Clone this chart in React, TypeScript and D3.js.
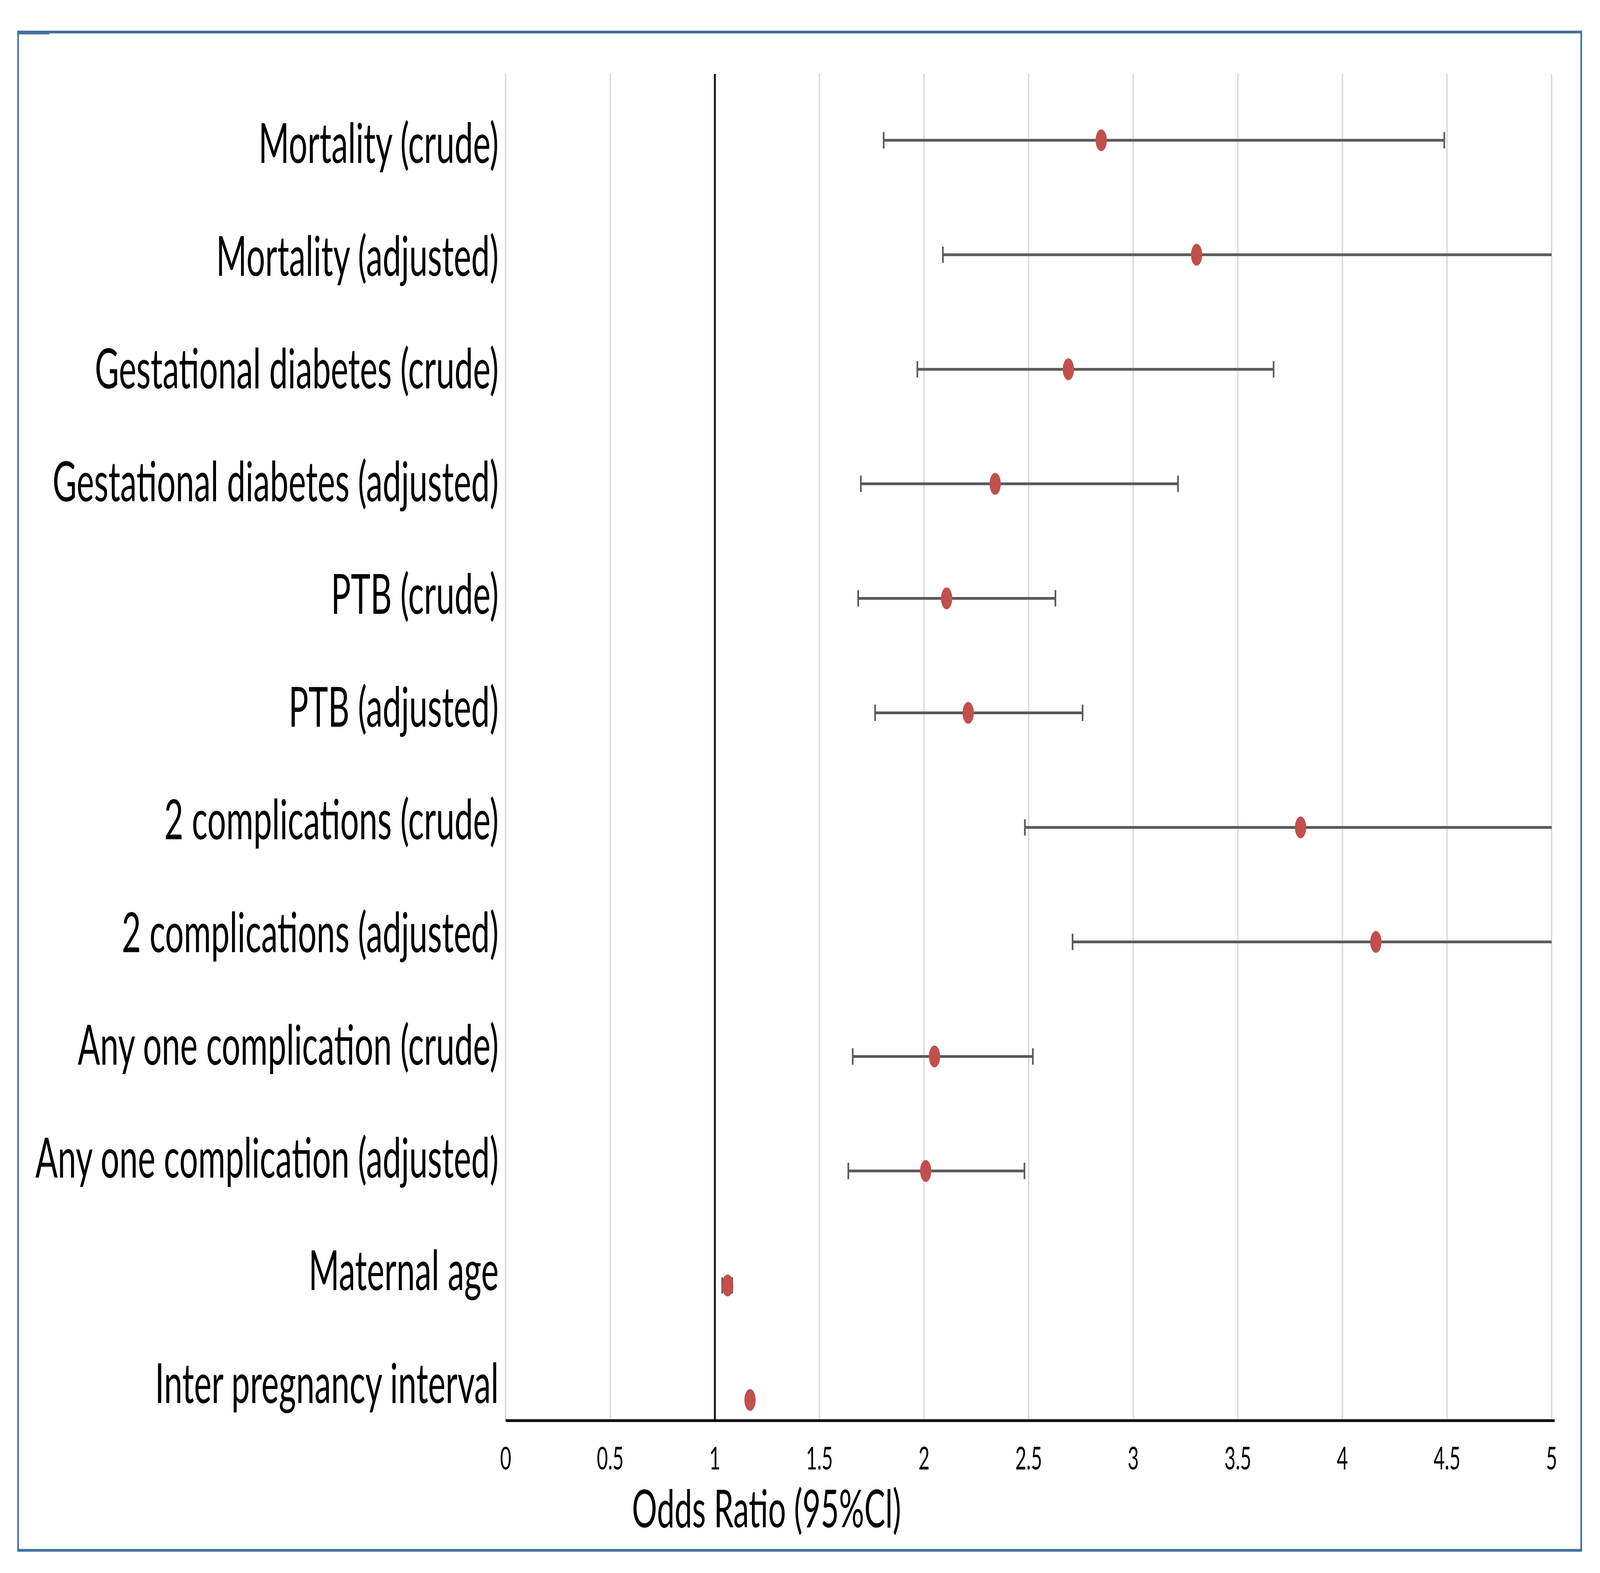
import React, { useEffect } from 'react';
import * as d3 from 'd3';

// Forest plot: odds ratios with 95% CI
const categories = [
  'Mortality (crude)',
  'Mortality (adjusted)',
  'Gestational diabetes (crude)',
  'Gestational diabetes (adjusted)',
  'PTB (crude)',
  'PTB (adjusted)',
  '2 complications (crude)',
  '2 complications (adjusted)',
  'Any one complication (crude)',
  'Any one complication (adjusted)',
  'Maternal age',
  'Inter pregnancy interval',
];
const oddsRatio = [2.847, 3.303, 2.69, 2.34, 2.108, 2.211, 3.8, 4.16, 2.05, 2.008, 1.061, 1.168];
const ciLower = [1.807, 2.09, 1.968, 1.698, 1.685, 1.766, 2.482, 2.71, 1.659, 1.638, 1.035, 1.155];
const ciUpper = [4.487, 5.21, 3.671, 3.214, 2.628, 2.758, 5.82, 6.39, 2.52, 2.48, 1.083, 1.181];
const xTicks = [0, 0.5, 1, 1.5, 2, 2.5, 3, 3.5, 4, 4.5, 5];

const W = 6809;
const H = 4026;
const FONT = 'Lato, "Open Sans", sans-serif';

export default function App() {
  useEffect(() => {
    document.body.style.margin = '0';
    document.body.style.overflow = 'hidden';
  }, []);

  const plotTop = 189;
  const plotBottom = 3636;

  const x = d3.scaleLinear().domain([0, 5]).range([2152, 6603]);
  // rows sit on a value axis (Excel scatter), not centred bands
  const y = d3.scaleLinear().domain([-0.58, 11.18]).range([plotTop, plotBottom]);
  // category labels come from a separate axis
  const labelY = d3.scalePoint<string>().domain(categories).range([417, 3591]);

  const clip = (v: number) => Math.max(0, Math.min(5, v));
  const capH = 21;

  // the window may be narrower than the chart, so stretch the viewBox over it
  return (
    <svg
      viewBox={`0 0 ${W} ${H}`}
      preserveAspectRatio="none"
      style={{ display: 'block', width: '100vw', height: '100vh', background: '#fff' }}
      fontFamily={FONT}
    >
      <rect x={0} y={0} width={W} height={H} fill="#fff" />

      {/* chart frame */}
      <rect x={77} y={82} width={6652} height={3886} fill="none" stroke="#41719C" strokeWidth={7} />
      <rect x={74} y={79} width={136} height={9} fill="#41719C" />

      {/* vertical gridlines */}
      {xTicks.map((t) => (
        <line
          key={'g' + t}
          x1={x(t)}
          x2={x(t)}
          y1={plotTop}
          y2={plotBottom}
          stroke="#D9D9D9"
          strokeWidth={6}
        />
      ))}

      {/* reference line at OR = 1 */}
      <line x1={x(1)} x2={x(1)} y1={plotTop} y2={plotBottom} stroke="#111" strokeWidth={8} />

      {/* x axis */}
      <line x1={x(0)} x2={x(5) + 13} y1={plotBottom} y2={plotBottom} stroke="#000" strokeWidth={7} />
      {xTicks.map((t) => (
        <text key={'t' + t} x={x(t)} y={3761} textAnchor="middle" fontSize={82} fill="#000">
          {t}
        </text>
      ))}
      <text x={3262} y={3909} textAnchor="middle" fontSize={134} fill="#000">
        Odds Ratio (95%Cl)
      </text>

      {/* category labels */}
      {categories.map((c) => (
        <text key={c} x={2122} y={labelY(c)} textAnchor="end" fontSize={141} fill="#000">
          {c}
        </text>
      ))}

      {/* error bars */}
      {categories.map((c, i) => {
        const lo = ciLower[i];
        const hi = ciUpper[i];
        const yy = y(i);
        return (
          <g key={'e' + c} stroke="#595959" strokeWidth={7}>
            <line x1={x(clip(lo))} x2={x(clip(hi))} y1={yy} y2={yy} />
            {lo >= 0 && lo <= 5 && <line x1={x(lo)} x2={x(lo)} y1={yy - capH} y2={yy + capH} />}
            {hi >= 0 && hi <= 5 && <line x1={x(hi)} x2={x(hi)} y1={yy - capH} y2={yy + capH} />}
          </g>
        );
      })}

      {/* point estimates */}
      {categories.map((c, i) => (
        <ellipse key={'p' + c} cx={x(oddsRatio[i])} cy={y(i)} rx={24} ry={28} fill="#C0504D" />
      ))}
    </svg>
  );
}
